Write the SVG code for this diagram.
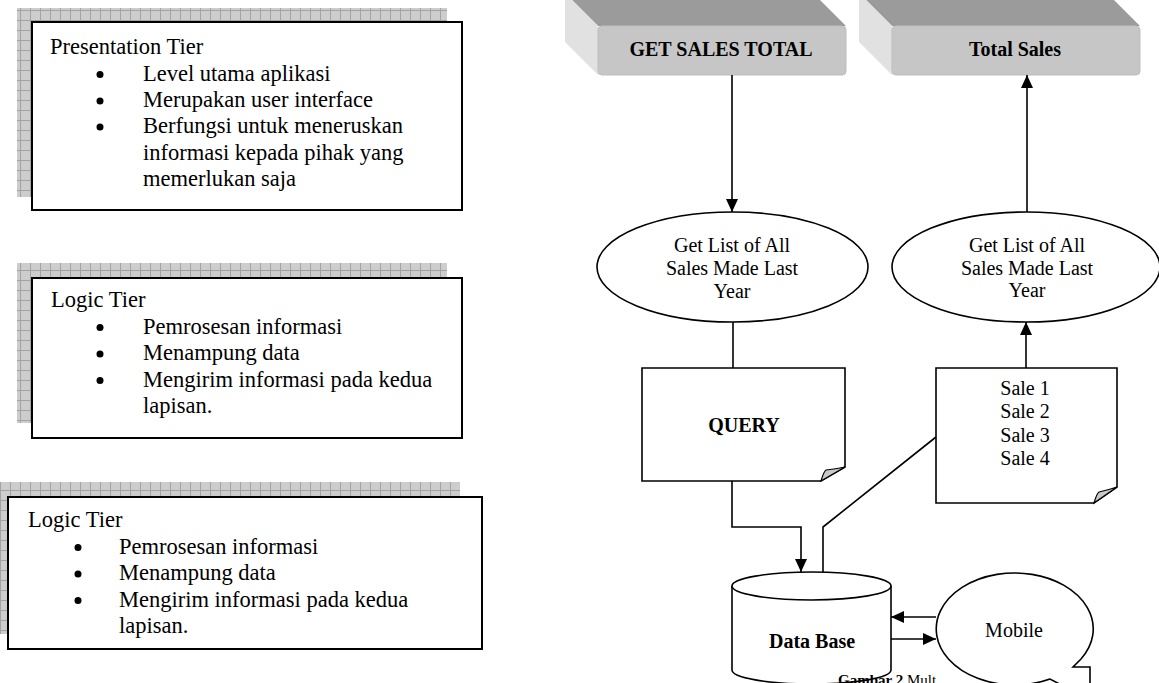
<svg xmlns="http://www.w3.org/2000/svg" width="1159" height="683" viewBox="0 0 1159 683">
<defs>
<pattern id="grid" width="10" height="10" patternUnits="userSpaceOnUse">
<rect width="10" height="10" fill="#cdcdcd"/>
<path d="M0 0.5H10M0.5 0V10" stroke="#a3a3a3" stroke-width="1" fill="none"/>
</pattern>
<marker id="arr" markerWidth="13" markerHeight="12" refX="13" refY="6" orient="auto" markerUnits="userSpaceOnUse">
<path d="M0,0 L13,6 L0,12 Z" fill="#000"/>
</marker>
<clipPath id="capclip"><rect x="830" y="650" width="106" height="40"/></clipPath>
<style>
.t{font-family:"Liberation Serif","Times New Roman",serif;font-size:22.5px;fill:#000}
.s{font-family:"Liberation Serif","Times New Roman",serif;font-size:20px;fill:#000}
.b{font-family:"Liberation Serif","Times New Roman",serif;font-size:20px;font-weight:bold;fill:#000}
.cap{font-family:"Liberation Serif","Times New Roman",serif;font-size:15px;fill:#000}
.tier{fill:#fff;stroke:#000;stroke-width:2}
.shadow{fill:url(#grid)}
.sh{fill:#fff;stroke:#000;stroke-width:1.6}
.ln{fill:none;stroke:#000;stroke-width:1.6}
.front{fill:#c6c6c6;stroke:#bdbdbd;stroke-width:1}
.top{fill:#9b9b9b}
.side{fill:#e1e1e1}
.fold{fill:#c8c8c8;stroke:#000;stroke-width:1.2}
</style>
</defs>

<g id="presentation-tier">
<rect class="shadow" x="17" y="8" width="430" height="189"/>
<rect class="tier" x="32" y="22" width="430" height="188"/>
<text class="t" x="50" y="54">Presentation Tier</text>
<circle cx="100" cy="74.5" r="3.5"/>
<circle cx="100" cy="101" r="3.5"/>
<circle cx="100" cy="127" r="3.5"/>
<text class="t" x="143" y="80.5">Level utama aplikasi</text>
<text class="t" x="143" y="107">Merupakan user interface</text>
<text class="t" x="143" y="133">Berfungsi untuk meneruskan</text>
<text class="t" x="143" y="159.5">informasi kepada pihak yang</text>
<text class="t" x="143" y="186">memerlukan saja</text>
</g>

<g id="logic-tier-1">
<rect class="shadow" x="17" y="263" width="430" height="160"/>
<rect class="tier" x="32" y="278" width="430" height="160"/>
<text class="t" x="51" y="307">Logic Tier</text>
<circle cx="100" cy="327.5" r="3.5"/>
<circle cx="100" cy="354" r="3.5"/>
<circle cx="100" cy="380.5" r="3.5"/>
<text class="t" x="143" y="333.5">Pemrosesan informasi</text>
<text class="t" x="143" y="360">Menampung data</text>
<text class="t" x="143" y="386.5">Mengirim informasi pada kedua</text>
<text class="t" x="143" y="413">lapisan.</text>
</g>

<g id="logic-tier-2">
<rect class="shadow" x="-7" y="482" width="467" height="152"/>
<rect class="tier" x="8" y="497" width="474" height="152"/>
<text class="t" x="28" y="527">Logic Tier</text>
<circle cx="78" cy="547.5" r="3.5"/>
<circle cx="78" cy="574" r="3.5"/>
<circle cx="78" cy="600.5" r="3.5"/>
<text class="t" x="119" y="553.5">Pemrosesan informasi</text>
<text class="t" x="119" y="580">Menampung data</text>
<text class="t" x="119" y="606.5">Mengirim informasi pada kedua</text>
<text class="t" x="119" y="633">lapisan.</text>
</g>

<g id="get-sales-total">
<polygon class="top" points="598,26 846,26 813,-7 565,-7"/>
<polygon class="side" points="598,26 598,75 565,42 565,-7"/>
<rect class="front" x="598" y="26" width="248" height="49" rx="4"/>
<text class="b" x="721" y="56" text-anchor="middle">GET SALES TOTAL</text>
</g>

<g id="total-sales">
<polygon class="top" points="892,26 1140,26 1107,-7 859,-7"/>
<polygon class="side" points="892,26 892,75 859,42 859,-7"/>
<rect class="front" x="892" y="26" width="248" height="49" rx="4"/>
<text class="b" x="1015" y="56" text-anchor="middle">Total Sales</text>
</g>

<g id="connectors">
<line class="ln" x1="732" y1="75" x2="732" y2="212" marker-end="url(#arr)"/>
<line class="ln" x1="1027" y1="212" x2="1027" y2="75" marker-end="url(#arr)"/>
<line class="ln" x1="733" y1="322" x2="733" y2="368"/>
<line class="ln" x1="1026" y1="368" x2="1026" y2="322" marker-end="url(#arr)"/>
<polyline class="ln" points="732,481 732,527 801,527 801,572" marker-end="url(#arr)"/>
<polyline class="ln" points="823,572 823,527 936,437"/>
<line class="ln" x1="936" y1="617" x2="891" y2="617" marker-end="url(#arr)"/>
<line class="ln" x1="891" y1="639" x2="936" y2="639" marker-end="url(#arr)"/>
</g>

<g id="get-list-1">
<ellipse class="sh" cx="732.5" cy="267" rx="135.5" ry="55"/>
<text class="s" x="732" y="252" text-anchor="middle">Get List of All</text>
<text class="s" x="732" y="275" text-anchor="middle">Sales Made Last</text>
<text class="s" x="732" y="298" text-anchor="middle">Year</text>
</g>

<g id="get-list-2">
<ellipse class="sh" cx="1026" cy="267" rx="134" ry="55"/>
<text class="s" x="1027" y="252" text-anchor="middle">Get List of All</text>
<text class="s" x="1027" y="275" text-anchor="middle">Sales Made Last</text>
<text class="s" x="1027" y="297" text-anchor="middle">Year</text>
</g>

<g id="query">
<path class="sh" d="M642,368 H845 V467 L821,481 H642 Z"/>
<path class="fold" d="M821,481 Q824,471 826,470 Q836,469 845,467 Z"/>
<text class="b" x="744" y="432" text-anchor="middle">QUERY</text>
</g>

<g id="sales-list">
<path class="sh" d="M936,368 H1117 V487 L1094,503 H936 Z"/>
<path class="fold" d="M1094,503 Q1097,493 1099,492 Q1108,490 1117,487 Z"/>
<text class="s" x="1025" y="395" text-anchor="middle">Sale 1</text>
<text class="s" x="1025" y="418" text-anchor="middle">Sale 2</text>
<text class="s" x="1025" y="442" text-anchor="middle">Sale 3</text>
<text class="s" x="1025" y="465" text-anchor="middle">Sale 4</text>
</g>

<g id="database">
<path class="sh" d="M732,586 V670 A79.5,14 0 0 0 891,670 V586"/>
<ellipse class="sh" cx="811.5" cy="586" rx="79.5" ry="14"/>
<text class="b" x="812" y="648" text-anchor="middle">Data Base</text>
</g>

<text id="caption" x="838" y="685" class="cap" clip-path="url(#capclip)"><tspan font-weight="bold">Gambar 2</tspan> Multi Tier Architecture</text>

<g id="mobile">
<path class="sh" d="M1081,659 A78.5,56 0 1 0 1050,679 L1090,700 L1090,667 L1073,667 Z"/>
<text class="s" x="1014" y="637" text-anchor="middle">Mobile</text>
</g>
</svg>
